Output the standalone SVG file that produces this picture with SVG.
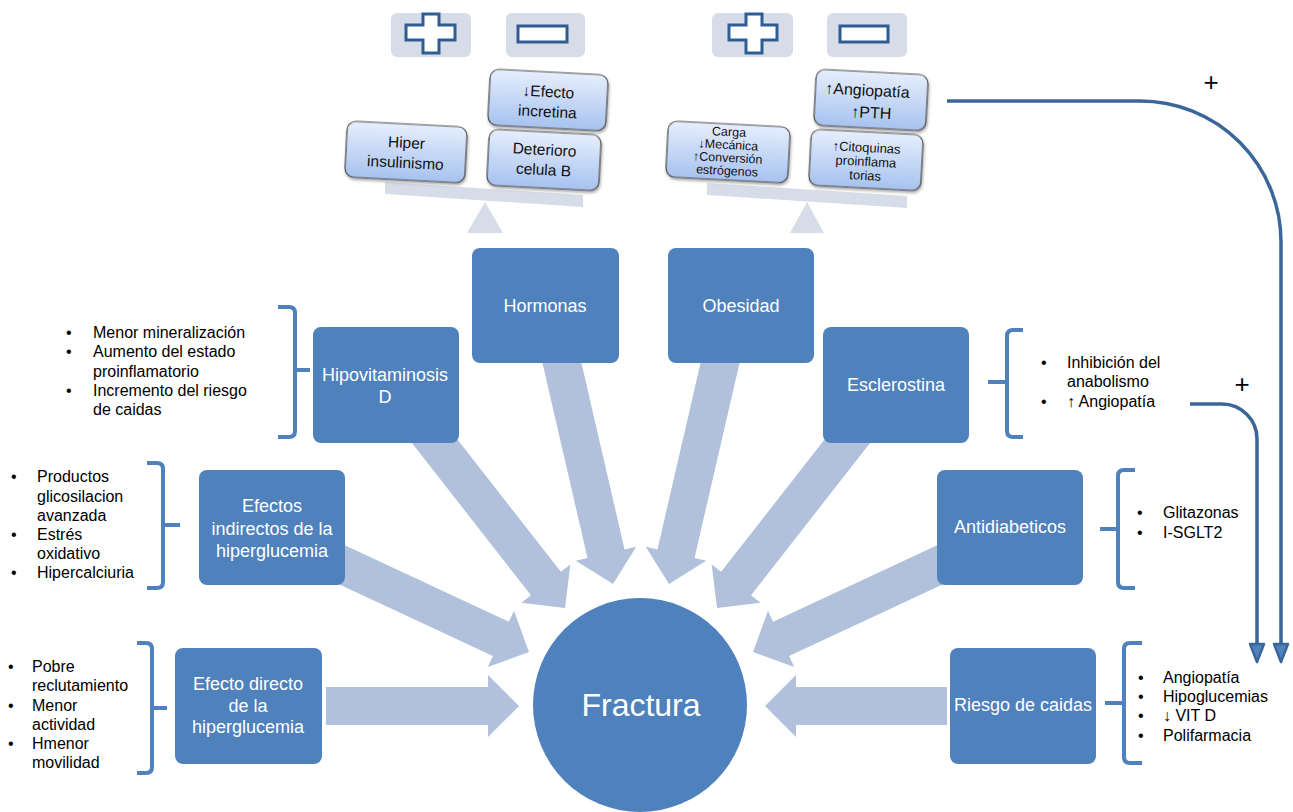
<svg xmlns="http://www.w3.org/2000/svg" width="1293" height="812" viewBox="0 0 1293 812">
<defs>
<linearGradient id="bg" x1="0" y1="0" x2="0" y2="1">
<stop offset="0" stop-color="#E6EEFC"/>
<stop offset="1" stop-color="#A7C2EF"/>
</linearGradient>
<filter id="sh" x="-10%" y="-10%" width="130%" height="140%">
<feDropShadow dx="1" dy="2" stdDeviation="1.5" flood-color="#000" flood-opacity="0.35"/>
</filter>
<style>
.node{fill:#4F81BD}
.nt{font-family:"Liberation Sans",Arial,sans-serif;font-size:18px;fill:#fff;text-anchor:middle}
.arr{fill:#B1C1DC}
.br{fill:none;stroke:#4F81BD;stroke-width:4;stroke-linecap:butt;stroke-linejoin:round}
.lt{font-family:"Liberation Sans",Arial,sans-serif;font-size:16px;fill:#000}
.pm{fill:#D6DDE8}
.sym{fill:#fff;stroke:#2F5D93;stroke-width:3}
.bal{fill:url(#bg);stroke:#4A4A4A;stroke-width:1.2;filter:url(#sh)}
.bt{font-family:"Liberation Sans",Arial,sans-serif;fill:#111;text-anchor:middle}
.cv{fill:none;stroke:#3B6699;stroke-width:3.5}
.ah{fill:#4F81BD;stroke:#3B6699;stroke-width:2.5;stroke-linejoin:round}
.plus{font-family:"Liberation Sans",Arial,sans-serif;font-size:26px;fill:#000;text-anchor:middle}
</style>
</defs>
<rect width="1293" height="812" fill="#fff"/>

<g id="connectors">
<polygon class="arr" points="-193,-19 -31,-19 -31,-31 0,0 -31,31 -31,19 -193,19" transform="translate(519,706) rotate(0)"/>
<polygon class="arr" points="-215,-19 -31,-19 -31,-31 0,0 -31,31 -31,19 -215,19" transform="translate(529,652) rotate(25)"/>
<polygon class="arr" points="-230,-19 -31,-19 -31,-31 0,0 -31,31 -31,19 -230,19" transform="translate(565,608) rotate(52)"/>
<polygon class="arr" points="-240,-19 -31,-19 -31,-31 0,0 -31,31 -31,19 -240,19" transform="translate(613,584) rotate(77)"/>
<polygon class="arr" points="-240,-19 -31,-19 -31,-31 0,0 -31,31 -31,19 -240,19" transform="translate(669,584) rotate(103)"/>
<polygon class="arr" points="-230,-19 -31,-19 -31,-31 0,0 -31,31 -31,19 -230,19" transform="translate(717,608) rotate(128)"/>
<polygon class="arr" points="-215,-19 -31,-19 -31,-31 0,0 -31,31 -31,19 -215,19" transform="translate(753,652) rotate(155)"/>
<polygon class="arr" points="-182,-19 -31,-19 -31,-31 0,0 -31,31 -31,19 -182,19" transform="translate(765,706) rotate(180)"/>

<path class="cv" d="M947,101 H1140 A141,141 0 0 1 1281,242 V645"/>
<polygon class="ah" points="1274,644 1288,644 1281,662"/>
<path class="cv" d="M1190,404 H1222 A35,35 0 0 1 1257,439 V645"/>
<polygon class="ah" points="1250,644 1264,644 1257,662"/>
<text class="plus" x="1211" y="91">+</text>
<text class="plus" x="1242" y="393">+</text>

<path class="br" d="M278,307 H289 Q295,307 295,313 V431 Q295,437 289,437 H278 M295,370 H310"/>
<path class="br" d="M147,463 H157 Q163,463 163,469 V582 Q163,588 157,588 H147 M163,525 H180"/>
<path class="br" d="M137,643 H146 Q152,643 152,649 V767 Q152,773 146,773 H137 M152,708 H167"/>
<path class="br" d="M1023,330 H1013 Q1007,330 1007,336 V431 Q1007,437 1013,437 H1023 M1007,382 H988"/>
<path class="br" d="M1135,470 H1124 Q1118,470 1118,476 V582 Q1118,588 1124,588 H1135 M1118,529 H1100"/>
<path class="br" d="M1142,643 H1130 Q1124,643 1124,649 V757 Q1124,763 1130,763 H1142 M1124,703 H1105"/>
</g>

<g id="fractura">
<circle cx="640" cy="705" r="107" class="node"/>
<text x="641" y="716" font-family="Liberation Sans, Arial, sans-serif" font-size="32" fill="#fff" text-anchor="middle">Fractura</text>
</g>

<g id="hormonas">
<rect x="472" y="248" width="147" height="115" rx="8" class="node"/>
<text class="nt" x="545" y="312">Hormonas</text>
</g>
<g id="obesidad">
<rect x="668" y="248" width="146" height="115" rx="8" class="node"/>
<text class="nt" x="741" y="312">Obesidad</text>
</g>
<g id="hipovitaminosis">
<rect x="313" y="327" width="146" height="116" rx="8" class="node"/>
<text class="nt" x="385" y="381">Hipovitaminosis</text>
<text class="nt" x="385" y="403">D</text>
</g>
<g id="esclerostina">
<rect x="823" y="327" width="146" height="116" rx="8" class="node"/>
<text class="nt" x="896" y="391">Esclerostina</text>
</g>
<g id="efectos-indirectos">
<rect x="199" y="470" width="146" height="115" rx="8" class="node"/>
<text class="nt" x="272" y="512">Efectos</text>
<text class="nt" x="272" y="535">indirectos de la</text>
<text class="nt" x="272" y="557">hiperglucemia</text>
</g>
<g id="antidiabeticos">
<rect x="937" y="470" width="146" height="115" rx="8" class="node"/>
<text class="nt" x="1010" y="533">Antidiabeticos</text>
</g>
<g id="efecto-directo">
<rect x="175" y="648" width="147" height="116" rx="8" class="node"/>
<text class="nt" x="248" y="690">Efecto directo</text>
<text class="nt" x="248" y="712">de la</text>
<text class="nt" x="248" y="733">hiperglucemia</text>
</g>
<g id="riesgo-caidas">
<rect x="950" y="648" width="146" height="116" rx="8" class="node"/>
<text class="nt" x="1023" y="711">Riesgo de caidas</text>
</g>

<g id="lista-hipovitaminosis" class="lt">
<text x="66" y="338">•</text><text x="93" y="338">Menor mineralización</text>
<text x="66" y="357">•</text><text x="93" y="357">Aumento del estado</text>
<text x="93" y="377">proinflamatorio</text>
<text x="66" y="396">•</text><text x="93" y="396">Incremento del riesgo</text>
<text x="93" y="415">de caidas</text>
</g>
<g id="lista-indirectos" class="lt">
<text x="11" y="482">•</text><text x="37" y="482">Productos</text>
<text x="37" y="502">glicosilacion</text>
<text x="37" y="521">avanzada</text>
<text x="11" y="540">•</text><text x="37" y="540">Estrés</text>
<text x="37" y="559">oxidativo</text>
<text x="11" y="578">•</text><text x="37" y="578">Hipercalciuria</text>
</g>
<g id="lista-directo" class="lt">
<text x="8" y="672">•</text><text x="32" y="672">Pobre</text>
<text x="32" y="691">reclutamiento</text>
<text x="8" y="711">•</text><text x="32" y="711">Menor</text>
<text x="32" y="730">actividad</text>
<text x="8" y="749">•</text><text x="32" y="749">Hmenor</text>
<text x="32" y="768">movilidad</text>
</g>
<g id="lista-esclerostina" class="lt">
<text x="1041" y="368">•</text><text x="1067" y="368">Inhibición del</text>
<text x="1067" y="387">anabolismo</text>
<text x="1041" y="407">•</text><text x="1067" y="407">↑ Angiopatía</text>
</g>
<g id="lista-antidiabeticos" class="lt">
<text x="1137" y="518">•</text><text x="1163" y="518">Glitazonas</text>
<text x="1137" y="538">•</text><text x="1163" y="538">I-SGLT2</text>
</g>
<g id="lista-riesgo" class="lt">
<text x="1138" y="683">•</text><text x="1163" y="683">Angiopatía</text>
<text x="1138" y="702">•</text><text x="1163" y="702">Hipoglucemias</text>
<text x="1138" y="721">•</text><text x="1163" y="721">↓ VIT D</text>
<text x="1138" y="741">•</text><text x="1163" y="741">Polifarmacia</text>
</g>

<g id="balanza-hormonas">
<rect x="391" y="13" width="80" height="44" rx="6" class="pm"/>
<polygon class="sym" points="423,14 439,14 439,25 455,25 455,40 439,40 439,53 423,53 423,40 406,40 406,25 423,25"/>
<rect x="506" y="13" width="79" height="44" rx="6" class="pm"/>
<rect x="518" y="26" width="49" height="16" class="sym"/>
<polygon class="pm" points="385,182 583,195 583,207 385,194"/>
<polygon class="pm" points="485,202 503,233 467,233"/>
<g transform="rotate(3 406 152)">
<rect x="346" y="124" width="120" height="56" rx="9" class="bal"/>
<text class="bt" x="406" y="148" font-size="15.5">Hiper</text>
<text class="bt" x="406" y="168" font-size="15.5">insulinismo</text>
</g>
<g transform="rotate(3 548 100)">
<rect x="489" y="72" width="118" height="56" rx="9" class="bal"/>
<text class="bt" x="548" y="97" font-size="15.5">↓Efecto</text>
<text class="bt" x="548" y="117" font-size="15.5">incretina</text>
</g>
<g transform="rotate(3 544 160)">
<rect x="488" y="132" width="112" height="56" rx="9" class="bal"/>
<text class="bt" x="544" y="155" font-size="15.5">Deterioro</text>
<text class="bt" x="544" y="175" font-size="15.5">celula B</text>
</g>
</g>

<g id="balanza-obesidad">
<rect x="712" y="13" width="81" height="44" rx="6" class="pm"/>
<polygon class="sym" points="746,14 762,14 762,25 777,25 777,40 762,40 762,53 746,53 746,40 729,40 729,25 746,25"/>
<rect x="827" y="13" width="80" height="44" rx="6" class="pm"/>
<rect x="840" y="26" width="48" height="16" class="sym"/>
<polygon class="pm" points="707,183 907,196 907,208 707,195"/>
<polygon class="pm" points="807,202 824,233 790,233"/>
<g transform="rotate(3 728 152)">
<rect x="667" y="124" width="122" height="56" rx="9" class="bal"/>
<text class="bt" x="728" y="136" font-size="12.5">Carga</text>
<text class="bt" x="728" y="149" font-size="12.5">↓Mecánica</text>
<text class="bt" x="728" y="162" font-size="12.5">↑Conversión</text>
<text class="bt" x="728" y="175" font-size="12.5">estrógenos</text>
</g>
<g transform="rotate(3 871 100)">
<rect x="815" y="72" width="112" height="56" rx="9" class="bal"/>
<text class="bt" x="867" y="96" font-size="16">↑Angiopatía</text>
<text class="bt" x="872" y="118" font-size="16">↑PTH</text>
</g>
<g transform="rotate(3 866 160)">
<rect x="810" y="132" width="112" height="56" rx="9" class="bal"/>
<text class="bt" x="866" y="152" font-size="13">↑Citoquinas</text>
<text class="bt" x="866" y="166" font-size="13">proinflama</text>
<text class="bt" x="866" y="180" font-size="13">torias</text>
</g>
</g>
</svg>
